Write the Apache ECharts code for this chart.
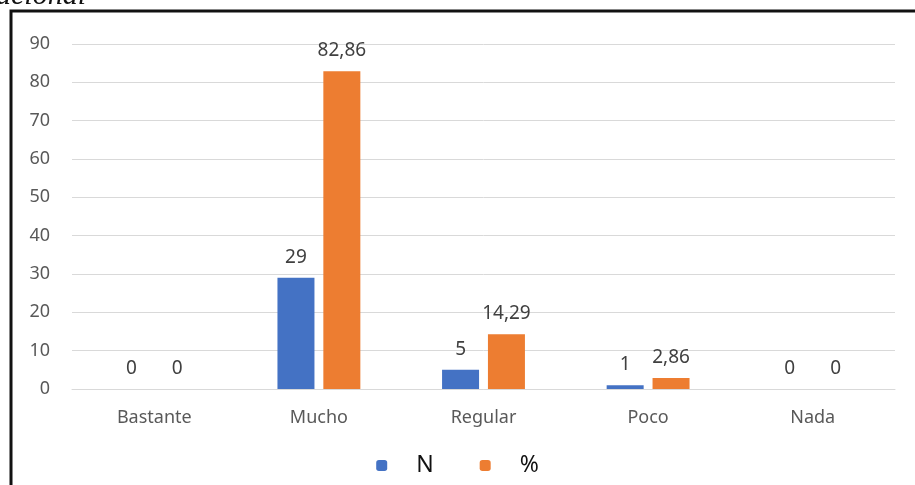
<!DOCTYPE html>
<html>
<head>
<meta charset="utf-8">
<script src="https://cdn.jsdelivr.net/npm/echarts@6/dist/echarts.min.js"></script>
<style>
  html, body { margin: 0; padding: 0; background: #fff; }
  #grafico { width: 915px; height: 485px; }
</style>
</head>
<body>
<div id="grafico"></div>
<script>
var categorias = ['Bastante', 'Mucho', 'Regular', 'Poco', 'Nada'];
var valoresN = [0, 29, 5, 1, 0];
var valoresPct = [0, 82.86, 14.29, 2.86, 0];
var nomesSeries = ['N', '%'];

var myChart = echarts.init(document.getElementById('grafico'));

function rotulo(v) {
  return String(v.value).replace('.', ',');
}

var option = {
  animation: false,
  textStyle: { fontFamily: 'Noto Sans' },
  graphic: [
    {
      type: 'polyline',
      shape: { points: [[11, 485], [11, 11], [915, 11]] },
      style: { stroke: '#111', lineWidth: 3, fill: null }
    },
    {
      type: 'text',
      left: -4,
      top: -19,
      style: {
        text: 'acional',
        font: 'italic 30px "Liberation Serif"',
        fill: '#111'
      }
    }
  ],
  grid: { left: 72, right: 20, top: 44, bottom: 96 },
  legend: {
    data: nomesSeries,
    bottom: 3,
    left: 'center',
    itemWidth: 11,
    itemHeight: 11,
    itemGap: 46,
    textStyle: { fontSize: 23, color: '#111', padding: [0, 0, 0, 24] }
  },
  xAxis: {
    type: 'category',
    data: categorias,
    axisLine: { lineStyle: { color: '#d9d9d9' } },
    axisTick: { show: false },
    axisLabel: { color: '#595959', fontSize: 18, margin: 20 }
  },
  yAxis: {
    type: 'value',
    min: 0,
    max: 90,
    interval: 10,
    splitLine: { lineStyle: { color: '#d9d9d9' } },
    axisLabel: { color: '#595959', fontSize: 18, margin: 22 }
  },
  series: [
    {
      name: nomesSeries[0],
      type: 'bar',
      data: valoresN,
      barWidth: 37,
      barGap: '24%',
      itemStyle: { color: '#4472C4' },
      label: { show: true, position: 'top', distance: 11, color: '#404040', fontSize: 19, formatter: rotulo }
    },
    {
      name: nomesSeries[1],
      type: 'bar',
      data: valoresPct,
      barWidth: 37,
      itemStyle: { color: '#ED7D31' },
      label: { show: true, position: 'top', distance: 11, color: '#404040', fontSize: 19, formatter: rotulo }
    }
  ]
};

option && myChart.setOption(option);
</script>
</body>
</html>
